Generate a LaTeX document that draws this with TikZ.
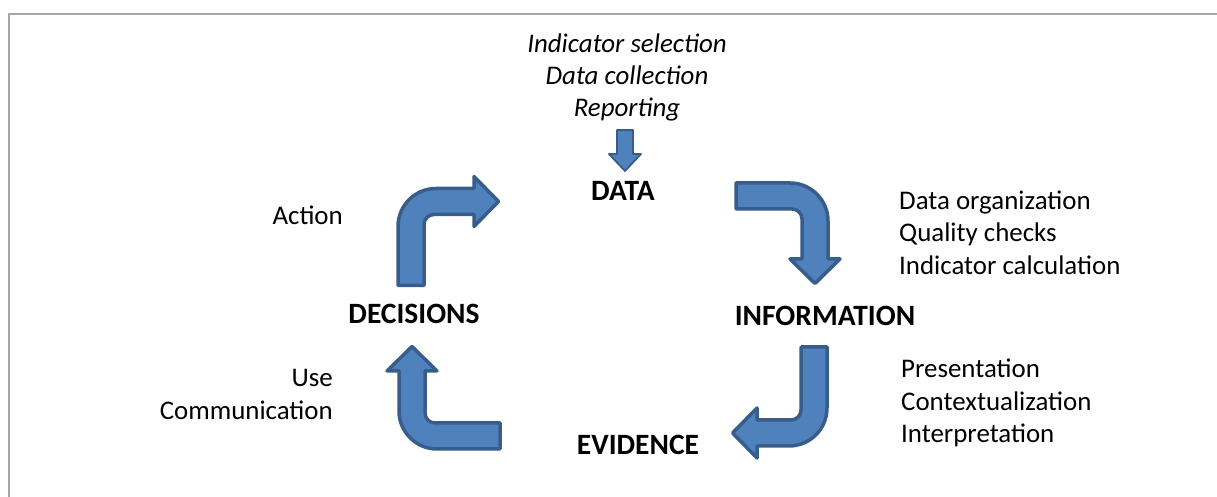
\documentclass[tikz,border=0pt]{standalone}
\usepackage{fontspec}
\setmainfont{Carlito}
\definecolor{arrowfill}{HTML}{4F81BD}
\definecolor{arrowline}{HTML}{385D8A}
\definecolor{framegray}{HTML}{A6A6A6}
\tikzset{
  blk/.style={fill=arrowfill, draw=arrowline, line width=3.5bp, line join=round},
  lbl/.style={font=\fontsize{29.6}{35}\selectfont\bfseries, inner sep=0pt},
  txt/.style={font=\fontsize{27}{32.5}\selectfont, inner sep=0pt},
  pics/bentarrow/.style 2 args={code={
    \draw[blk] (-13,-#1) -- (-13,-25) arc[start angle=180,end angle=90,radius=38]
      -- ({#2-26},13) -- ({#2-26},25) -- ({#2-1.5},0) -- ({#2-26},-25) -- ({#2-26},-13)
      -- (23,-13) arc[start angle=90,end angle=180,radius=10] -- (13,-#1) -- cycle;
  }}
}
\begin{document}
\begin{tikzpicture}[x=1bp,y=1bp]
\useasboundingbox (0,0) rectangle (1217,497);
\draw[framegray, line width=2.5bp] (1217,483) -- (9,483) -- (9,0);

% main labels
\node[lbl] (data) at (623,306) {DATA};
\node[lbl] (decisions) at (414,183) {DECISIONS};
\node[lbl] (information) at (825,181) {INFORMATION};
\node[lbl] (evidence) at (638,52) {EVIDENCE};

% side texts
\node[txt, font=\fontsize{27}{32.5}\selectfont\itshape, align=center] (inputs) at (627,419.5)
  {Indicator selection\\Data collection\\Reporting};
\node[txt, align=left, anchor=west] (proc) at (899,264.5)
  {Data organization\\Quality checks\\Indicator calculation};
\node[txt, align=left, anchor=west] (pres) at (901,94)
  {Presentation\\Contextualization\\Interpretation};
\node[txt, anchor=east] (action) at (343,282) {Action};
\node[txt, align=right, anchor=east] (use) at (333,102.5) {Use\\Communication};

% small input arrow
\draw[blk, line width=1.8bp] (617,367) -- (633,367) -- (633,343) -- (641,343)
  -- (625,326) -- (609,343) -- (617,343) -- cycle;

% cycle arrows
\pic[rotate=0] at (411,295.5) {bentarrow={84}{89}};
\pic[rotate=-90] at (815,301) {bentarrow={79}{89}};
\pic[rotate=180] at (814,64) {bentarrow={86}{83}};
\pic[rotate=90] at (412,61) {bentarrow={88}{91}};
\end{tikzpicture}
\end{document}
